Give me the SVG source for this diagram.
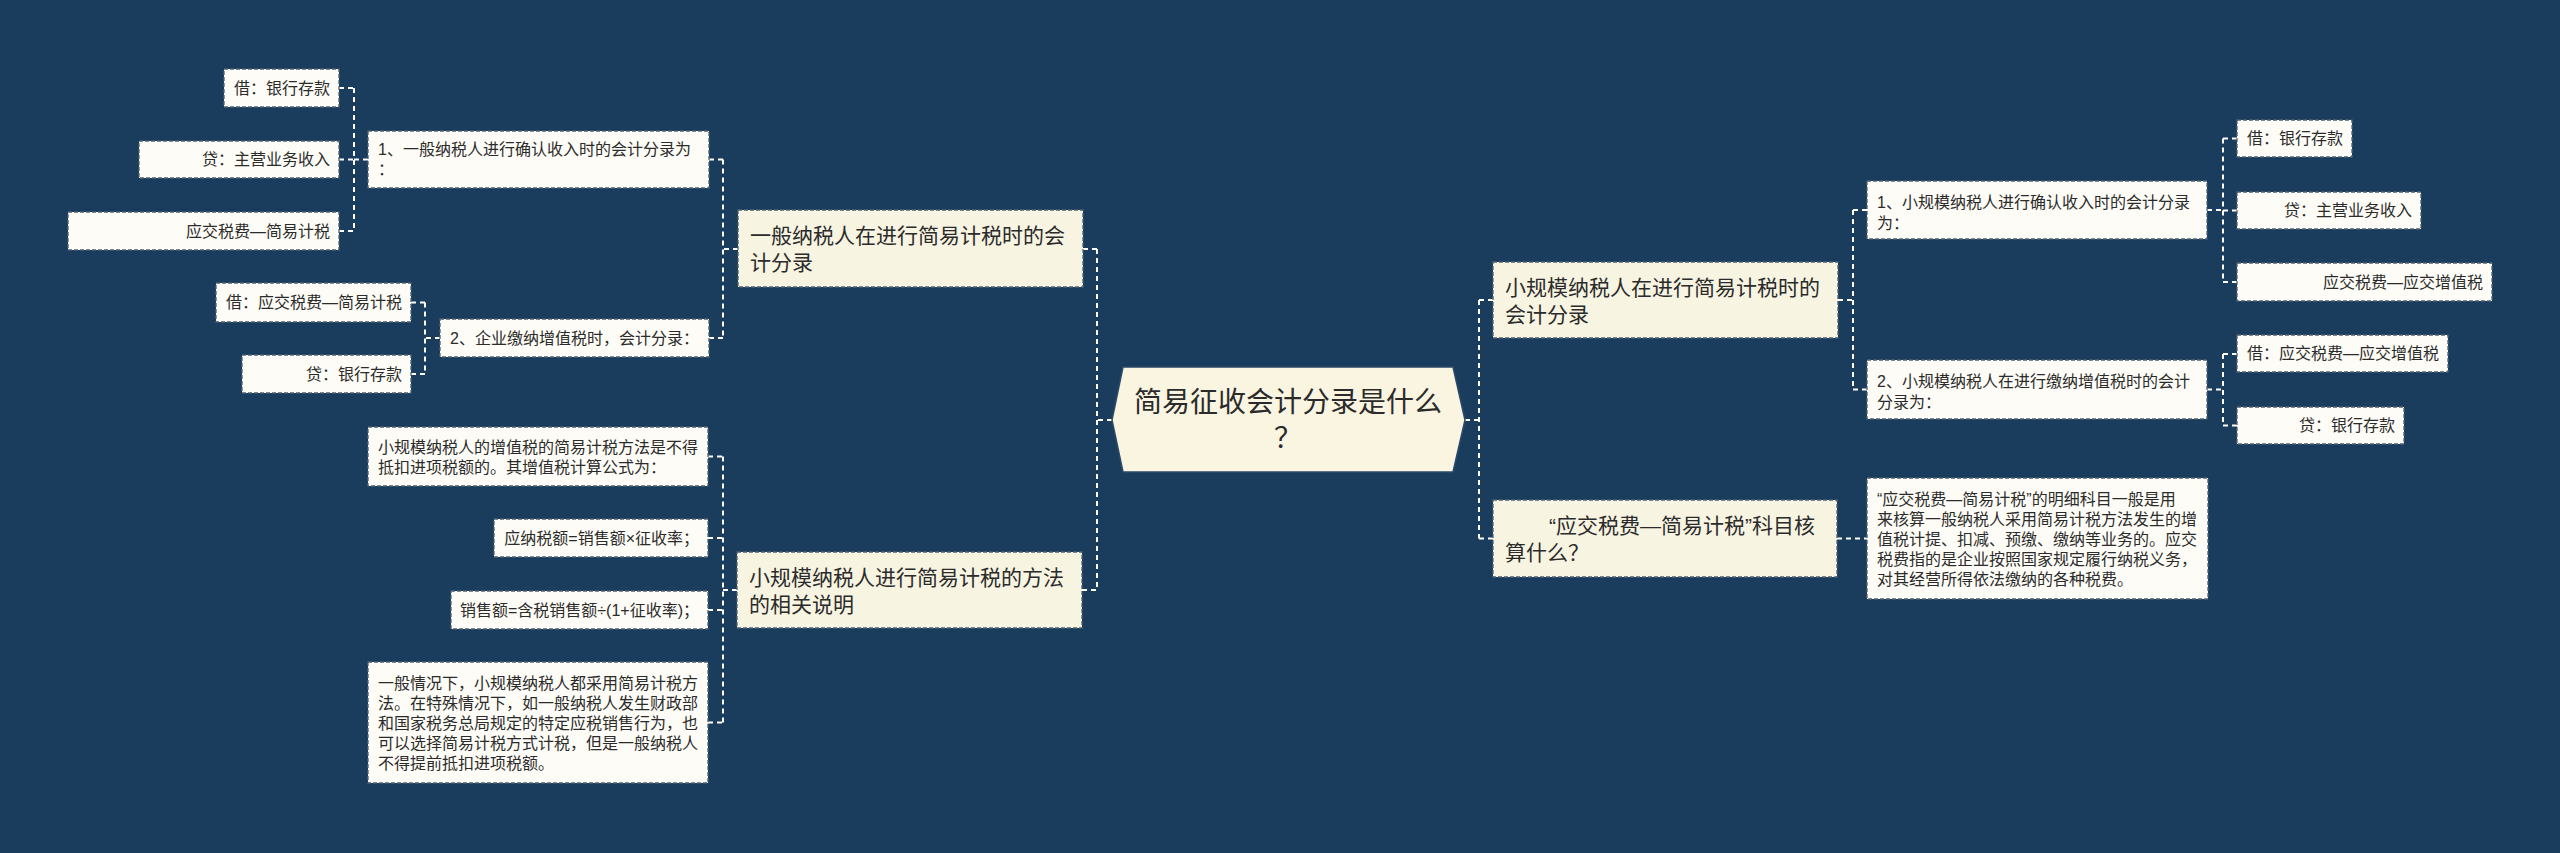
<svg xmlns="http://www.w3.org/2000/svg" width="2560" height="853" viewBox="0 0 2560 853">
<style>
text{font-family:"Liberation Sans","Noto Sans CJK SC",sans-serif;fill:#2b2b2b}
.leaf rect{fill:#fdfcf6;stroke:#4f6072;stroke-width:1.3;stroke-dasharray:4 2}
.l1 rect{fill:#f8f4e2;stroke:#4f6072;stroke-width:1.3;stroke-dasharray:4 2}
.leaf text{font-size:16px}
.l1 text{font-size:21px}
.r{text-anchor:end}
#connectors path{fill:none;stroke:#ffffff;stroke-width:2;stroke-dasharray:5 4}
</style>
<rect width="2560" height="853" fill="#1a3d5d"/>
<g id="connectors">
<path d="M1112 420H1097"/>
<path d="M1097 249V590M1083 249H1097M1082 590H1097"/>
<path d="M1465 420H1479"/>
<path d="M1479 300V538.5M1479 300H1493M1479 538.5H1493"/>
<path d="M738 249H723M723 159.5V338M709 159.5H723M709 338H723"/>
<path d="M368 159.5H354M354 88V231M339 88H354M339 159.5H354M339 231H354"/>
<path d="M440 338H425M425 302.5V374M411 302.5H425M411 374H425"/>
<path d="M737 590H723M723 456.5V722.5M708 456.5H723M708 538H723M708 610H723M708 722.5H723"/>
<path d="M1838 300H1853M1853 210V389.5M1853 210H1867M1853 389.5H1867"/>
<path d="M2207 210H2223M2223 138.5V282M2223 138.5H2237M2223 210.5H2237M2223 282H2237"/>
<path d="M2207 389.5H2223M2223 354V425.5M2223 354H2237M2223 425.5H2237"/>
<path d="M1837 538.5H1867"/>
</g>

<g id="root">
<polygon points="1112,420 1123,367 1453,367 1465,420 1453,472 1123,472" fill="#faf5e1" stroke="#2c4a68" stroke-width="1.5"/>
<text x="1288" y="412" font-size="28" text-anchor="middle">简易征收会计分录是什么</text>
<text x="1288" y="448" font-size="28" text-anchor="middle">？</text>
</g>

<g id="n-l1" class="l1">
<rect x="738" y="210" width="345" height="77"/>
<text x="750" y="243">一般纳税人在进行简易计税时的会</text>
<text x="750" y="270">计分录</text>
</g>
<g id="n-l2" class="l1">
<rect x="737" y="552" width="345" height="76"/>
<text x="749" y="585">小规模纳税人进行简易计税的方法</text>
<text x="749" y="612">的相关说明</text>
</g>
<g id="n-r1" class="l1">
<rect x="1493" y="262" width="345" height="76"/>
<text x="1505" y="295">小规模纳税人在进行简易计税时的</text>
<text x="1505" y="322">会计分录</text>
</g>
<g id="n-r2" class="l1">
<rect x="1493" y="500" width="344" height="77"/>
<text x="1549" y="533">“应交税费—简易计税”科目核</text>
<text x="1505" y="560">算什么？</text>
</g>

<g id="n-l1a" class="leaf">
<rect x="368" y="131" width="341" height="57"/>
<text x="378" y="155">1、一般纳税人进行确认收入时的会计分录为</text>
<text x="378" y="175">：</text>
</g>
<g id="n-l1b" class="leaf">
<rect x="440" y="319" width="269" height="38"/>
<text x="450" y="344">2、企业缴纳增值税时，会计分录：</text>
</g>
<g id="n-l1a1" class="leaf">
<rect x="224" y="69" width="115" height="38"/>
<text class="r" x="330" y="94">借：银行存款</text>
</g>
<g id="n-l1a2" class="leaf">
<rect x="139" y="141" width="200" height="37"/>
<text class="r" x="330" y="165">贷：主营业务收入</text>
</g>
<g id="n-l1a3" class="leaf">
<rect x="68" y="212" width="271" height="38"/>
<text class="r" x="330" y="237">应交税费—简易计税</text>
</g>
<g id="n-l1b1" class="leaf">
<rect x="216" y="283" width="195" height="39"/>
<text class="r" x="402" y="308">借：应交税费—简易计税</text>
</g>
<g id="n-l1b2" class="leaf">
<rect x="242" y="355" width="169" height="38"/>
<text class="r" x="402" y="380">贷：银行存款</text>
</g>

<g id="n-l2a" class="leaf">
<rect x="368" y="427" width="340" height="59"/>
<text x="378" y="453">小规模纳税人的增值税的简易计税方法是不得</text>
<text x="378" y="473">抵扣进项税额的。其增值税计算公式为：</text>
</g>
<g id="n-l2b" class="leaf">
<rect x="494" y="519" width="214" height="38"/>
<text class="r" x="699" y="544">应纳税额=销售额×征收率；</text>
</g>
<g id="n-l2c" class="leaf">
<rect x="451" y="591" width="257" height="38"/>
<text class="r" x="699" y="616">销售额=含税销售额÷(1+征收率)；</text>
</g>
<g id="n-l2d" class="leaf">
<rect x="368" y="662" width="340" height="121"/>
<text x="378" y="689">一般情况下，小规模纳税人都采用简易计税方</text>
<text x="378" y="709">法。在特殊情况下，如一般纳税人发生财政部</text>
<text x="378" y="729">和国家税务总局规定的特定应税销售行为，也</text>
<text x="378" y="749">可以选择简易计税方式计税，但是一般纳税人</text>
<text x="378" y="769">不得提前抵扣进项税额。</text>
</g>

<g id="n-r1a" class="leaf">
<rect x="1867" y="181" width="340" height="58"/>
<text x="1877" y="208">1、小规模纳税人进行确认收入时的会计分录</text>
<text x="1877" y="229">为：</text>
</g>
<g id="n-r1b" class="leaf">
<rect x="1867" y="360" width="340" height="59"/>
<text x="1877" y="387">2、小规模纳税人在进行缴纳增值税时的会计</text>
<text x="1877" y="408">分录为：</text>
</g>
<g id="n-r1a1" class="leaf">
<rect x="2237" y="120" width="115" height="37"/>
<text class="r" x="2343" y="144">借：银行存款</text>
</g>
<g id="n-r1a2" class="leaf">
<rect x="2237" y="192" width="184" height="37"/>
<text class="r" x="2412" y="216">贷：主营业务收入</text>
</g>
<g id="n-r1a3" class="leaf">
<rect x="2237" y="263" width="255" height="38"/>
<text class="r" x="2483" y="288">应交税费—应交增值税</text>
</g>
<g id="n-r1b1" class="leaf">
<rect x="2237" y="335" width="211" height="37"/>
<text class="r" x="2439" y="359">借：应交税费—应交增值税</text>
</g>
<g id="n-r1b2" class="leaf">
<rect x="2237" y="407" width="167" height="37"/>
<text class="r" x="2395" y="431">贷：银行存款</text>
</g>

<g id="n-r2a" class="leaf">
<rect x="1867" y="478" width="341" height="121"/>
<text x="1877" y="505">“应交税费—简易计税”的明细科目一般是用</text>
<text x="1877" y="525">来核算一般纳税人采用简易计税方法发生的增</text>
<text x="1877" y="545">值税计提、扣减、预缴、缴纳等业务的。应交</text>
<text x="1877" y="565">税费指的是企业按照国家规定履行纳税义务，</text>
<text x="1877" y="585">对其经营所得依法缴纳的各种税费。</text>
</g>
</svg>
